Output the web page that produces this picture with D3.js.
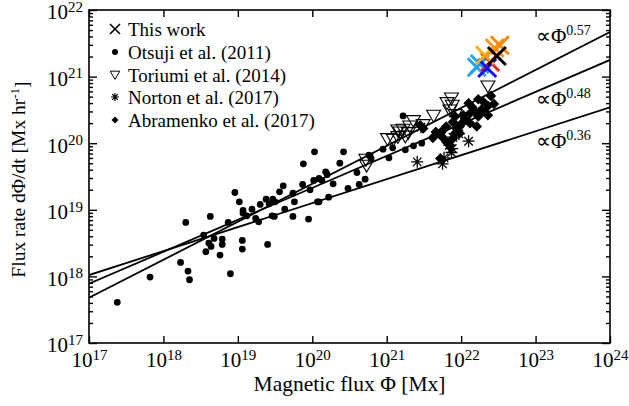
<!DOCTYPE html>
<html>
<head>
<meta charset="utf-8">
<script src="https://cdn.jsdelivr.net/npm/d3@7"></script>
<style>
  body { margin: 0; background: #fff; }
  svg { display: block; }
  text { font-family: "Liberation Serif", "Times New Roman", serif; fill: #000; }
</style>
</head>
<body>
<svg id="chart" width="629" height="406"></svg>
<script>
// Axis decades (log10 of the axis limits)
const xDecades = [17, 18, 19, 20, 21, 22, 23, 24];
const yDecades = [17, 18, 19, 20, 21, 22];

// Each sample: [log10 flux (Mx), log10 flux rate (Mx/hr)]
const otsuji = [
  [17.38, 17.61], [17.82, 17.99], [18.23, 18.21], [18.33, 18.08], [18.35, 17.95],
  [18.30, 18.81], [18.54, 18.62], [18.57, 18.37], [18.61, 18.50], [18.64, 18.45],
  [18.63, 18.90], [18.68, 18.57], [18.76, 18.32], [18.79, 18.56], [18.79, 18.48],
  [18.87, 18.81], [18.90, 18.04], [18.96, 19.26], [19.02, 19.12], [19.07, 18.99],
  [19.07, 18.95], [19.12, 18.91], [19.06, 18.54], [19.06, 18.41], [19.19, 19.01],
  [19.24, 18.87], [19.28, 18.82], [19.30, 19.08], [19.38, 19.16], [19.42, 19.09],
  [19.47, 19.16], [19.50, 19.12], [19.46, 18.91], [19.49, 18.90], [19.40, 18.48],
  [19.56, 19.27], [19.61, 19.36], [19.63, 19.01], [19.74, 19.25], [19.76, 19.12],
  [19.74, 18.90], [19.87, 19.38], [19.88, 19.69], [19.97, 19.30], [19.95, 18.86],
  [20.02, 19.44], [20.03, 19.87], [20.09, 19.47], [20.13, 19.44], [20.18, 19.57],
  [20.20, 19.53], [20.28, 19.39], [20.22, 19.19], [20.09, 19.12], [20.07, 19.12],
  [20.37, 19.70], [20.42, 19.87], [20.60, 19.56], [20.71, 19.46], [20.63, 19.38],
  [20.48, 19.32], [20.76, 19.82], [20.79, 19.77], [20.95, 19.91], [21.03, 19.78],
  [21.08, 19.93], [21.22, 20.41], [21.47, 20.00], [21.36, 19.96], [21.25, 19.90]
];

const toriumi = [
  [22.36, 20.85], [21.87, 20.67], [21.88, 20.56], [21.85, 20.49], [21.63, 20.41],
  [21.36, 20.33], [21.49, 20.27], [21.31, 20.25], [21.22, 20.20], [21.18, 20.16],
  [21.25, 20.10], [21.09, 20.05], [21.01, 20.06], [21.15, 20.19], [20.72, 19.75],
  [21.81, 20.60], [21.92, 20.42], [21.29, 20.15], [21.15, 20.09], [20.73, 19.66]
];

const norton = [
  [21.41, 19.72], [21.75, 19.69], [21.88, 19.92], [21.87, 19.86], [21.97, 20.14],
  [22.10, 20.03], [21.46, 20.24], [21.89, 20.09], [21.84, 19.97], [21.77, 19.78]
];

const abramenko = [
  [22.40, 20.71], [22.44, 20.59], [22.29, 20.63], [22.36, 20.56], [22.27, 20.50],
  [22.23, 20.66], [22.10, 20.60], [22.15, 20.54], [22.19, 20.47], [22.36, 20.42],
  [22.23, 20.40], [22.03, 20.42], [22.12, 20.45], [22.05, 20.37], [22.01, 20.30],
  [21.92, 20.40], [21.89, 20.32], [22.21, 20.25], [22.12, 20.30], [21.80, 20.25],
  [21.76, 20.20], [21.72, 20.15], [21.94, 20.22], [21.98, 20.15], [21.80, 20.02],
  [21.89, 20.07], [21.85, 19.96], [21.72, 19.77], [21.45, 20.27], [21.49, 20.22],
  [21.74, 20.10], [21.92, 20.15], [21.98, 20.25], [22.32, 20.47], [21.62, 20.08],
  [21.66, 20.17]
];

// This work: one entry per event, each with its own colour
const thisWork = [
  [22.21, 21.14], [22.25, 21.19], [22.39, 21.22], [22.35, 21.13],
  [22.32, 21.32], [22.45, 21.43], [22.52, 21.47], [22.48, 21.31]
];
const thisWorkColors = [
  "#3399ff", "#00aaff", "#ff1a1a", "#1010ff",
  "#ffb000", "#ff9a1a", "#ff8800", "#000000"
];

// Power-law fits: rate = 10^logC * flux^slope
const fitSlopes = [0.57, 0.48, 0.36];
const fitLogC = [7.99, 9.73, 11.90];
const fitLabels = ["0.57", "0.48", "0.36"];

const legendLabels = ["This work", "Otsuji et al. (2011)", "Toriumi et al. (2014)",
                      "Norton et al. (2017)", "Abramenko et al. (2017)"];

const svg = d3.select("#chart");
const plotL = 89, plotR = 610, plotT = 10, plotB = 343;

const x = d3.scaleLog().domain([1e17, 1e24]).range([plotL, plotR]);
const y = d3.scaleLog().domain([1e17, 1e22]).range([plotB, plotT]);
const P = v => 10 ** v;

svg.append("defs").append("clipPath").attr("id", "plotClip")
  .append("rect").attr("x", plotL).attr("y", plotT)
  .attr("width", plotR - plotL).attr("height", plotB - plotT);

// ---- axes -------------------------------------------------------------
const majorX = xDecades.map(P);
const majorY = yDecades.map(P);
const minorY = [];
yDecades.slice(0, -1).forEach(d => { for (let m = 2; m <= 9; m++) minorY.push(m * P(d)); });

function supLabels(sel, size) {
  sel.selectAll(".tick text").each(function (d) {
    const t = d3.select(this).text(null);
    t.append("tspan").text("10");
    t.append("tspan").attr("dy", "-0.5em").attr("font-size", size).text(Math.round(Math.log10(d)));
  });
}

const axisStyle = g => {
  g.select(".domain").remove();
  g.selectAll(".tick line").attr("stroke", "#000").attr("stroke-width", 1.4);
};

// bottom
svg.append("g").attr("transform", `translate(0,${plotB})`)
  .call(d3.axisBottom(x).tickValues(majorX).tickSizeInner(-7).tickSizeOuter(0).tickPadding(24).tickFormat(() => ""))
  .call(axisStyle)
  .call(g => g.selectAll(".tick text").attr("font-size", 21).attr("dy", "0em").attr("font-family", null))
  .call(g => supLabels(g, 15));
// top
svg.append("g").attr("transform", `translate(0,${plotT})`)
  .call(d3.axisTop(x).tickValues(majorX).tickSizeInner(-7).tickSizeOuter(0).tickFormat(() => ""))
  .call(axisStyle);
// left
svg.append("g").attr("transform", `translate(${plotL},0)`)
  .call(d3.axisLeft(y).tickValues(majorY).tickSizeInner(-8).tickSizeOuter(0).tickPadding(6).tickFormat(() => ""))
  .call(axisStyle)
  .call(g => g.selectAll(".tick text").attr("font-size", 21).attr("dy", "0.42em").attr("font-family", null))
  .call(g => supLabels(g, 15));
svg.append("g").attr("transform", `translate(${plotL},0)`)
  .call(d3.axisLeft(y).tickValues(minorY).tickSizeInner(-4).tickSizeOuter(0).tickFormat(() => ""))
  .call(axisStyle);
// right
svg.append("g").attr("transform", `translate(${plotR},0)`)
  .call(d3.axisRight(y).tickValues(majorY).tickSizeInner(-8).tickSizeOuter(0).tickFormat(() => ""))
  .call(axisStyle);
svg.append("g").attr("transform", `translate(${plotR},0)`)
  .call(d3.axisRight(y).tickValues(minorY).tickSizeInner(-4).tickSizeOuter(0).tickFormat(() => ""))
  .call(axisStyle);

svg.append("rect").attr("x", plotL).attr("y", plotT)
  .attr("width", plotR - plotL).attr("height", plotB - plotT)
  .attr("fill", "none").attr("stroke", "#000").attr("stroke-width", 1.6);

// axis titles
svg.append("text").attr("x", (plotL + plotR) / 2).attr("y", 391)
  .attr("text-anchor", "middle").attr("font-size", 21.5)
  .text("Magnetic flux \u03A6 [Mx]");

const yt = svg.append("text")
  .attr("transform", `translate(25,${(plotT + plotB) / 2 + 3}) rotate(-90)`)
  .attr("text-anchor", "middle").attr("font-size", 19.5);
yt.append("tspan").text("Flux rate d\u03A6/dt [Mx hr");
yt.append("tspan").attr("dy", "-0.45em").attr("font-size", 13).text("-1");
yt.append("tspan").attr("dy", "0.45em").text("]");

// ---- fits -------------------------------------------------------------
const plot = svg.append("g").attr("clip-path", "url(#plotClip)");
const line = d3.line().x(d => x(d[0])).y(d => y(d[1]));
fitSlopes.forEach((b, i) => {
  const pts = [1e17, 1e24].map(f => [f, P(fitLogC[i]) * f ** b]);
  plot.append("path").attr("d", line(pts))
    .attr("fill", "none").attr("stroke", "#000").attr("stroke-width", 1.8);
});

// fit labels
const fitLabelY = [43, 106, 148];
fitLabels.forEach((lab, i) => {
  const t = svg.append("text").attr("x", 536).attr("y", fitLabelY[i]).attr("font-size", 21);
  t.append("tspan").text("\u221D\u03A6");
  t.append("tspan").attr("dy", "-0.55em").attr("font-size", 14).text(lab);
});

// ---- markers ----------------------------------------------------------
const triPath = s => `M${-s},${-s * 0.8}L${s},${-s * 0.8}L0,${s * 0.9}Z`;
const starPath = s => {
  const d = s * 0.7071;
  return `M${-s},0L${s},0M0,${-s}L0,${s}M${-d},${-d}L${d},${d}M${-d},${d}L${d},${-d}`;
};
const diaPath = s => `M0,${-s}L${s},0L0,${s}L${-s},0Z`;
const crossPath = s => `M${-s},${-s}L${s},${s}M${-s},${s}L${s},${-s}`;

const pos = d => `translate(${x(P(d[0]))},${y(P(d[1]))})`;

plot.append("g").selectAll("circle").data(otsuji).join("circle")
  .attr("cx", d => x(P(d[0]))).attr("cy", d => y(P(d[1]))).attr("r", 3.4).attr("fill", "#000");

plot.append("g").selectAll("path").data(toriumi).join("path")
  .attr("transform", pos).attr("d", triPath(7))
  .attr("fill", "none").attr("stroke", "#000").attr("stroke-width", 1.1);

plot.append("g").selectAll("path").data(norton).join("path")
  .attr("transform", pos).attr("d", starPath(6))
  .attr("fill", "none").attr("stroke", "#000").attr("stroke-width", 1.3);

plot.append("g").selectAll("path").data(abramenko).join("path")
  .attr("transform", pos).attr("d", diaPath(5.3)).attr("fill", "#000");

plot.append("g").selectAll("path").data(thisWork).join("path")
  .attr("transform", pos).attr("d", crossPath(9))
  .attr("fill", "none").attr("stroke", (d, i) => thisWorkColors[i]).attr("stroke-width", 3);

// ---- legend -----------------------------------------------------------
const legendY = [29, 52, 75, 97, 120];
const lg = svg.append("g");
const mx = 115;
lg.append("path").attr("transform", `translate(${mx},${legendY[0]})`).attr("d", crossPath(5))
  .attr("fill", "none").attr("stroke", "#000").attr("stroke-width", 1.6);
lg.append("circle").attr("cx", mx).attr("cy", legendY[1]).attr("r", 3).attr("fill", "#000");
lg.append("path").attr("transform", `translate(${mx},${legendY[2]})`).attr("d", triPath(4.8))
  .attr("fill", "none").attr("stroke", "#000").attr("stroke-width", 1);
lg.append("path").attr("transform", `translate(${mx},${legendY[3]})`).attr("d", starPath(4))
  .attr("fill", "none").attr("stroke", "#000").attr("stroke-width", 1.2);
lg.append("path").attr("transform", `translate(${mx},${legendY[4]})`).attr("d", diaPath(3.5)).attr("fill", "#000");
legendLabels.forEach((lab, i) => {
  lg.append("text").attr("x", 128).attr("y", legendY[i]).attr("dy", "0.35em")
    .attr("font-size", 19).text(lab);
});
</script>
</body>
</html>
